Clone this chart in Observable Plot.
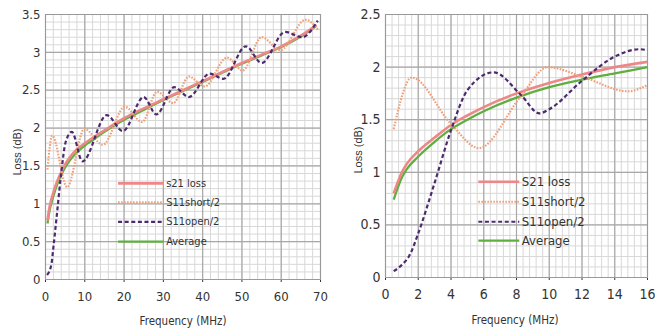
<!DOCTYPE html>
<html><head><meta charset="utf-8">
<script src="https://cdn.jsdelivr.net/npm/d3@7"></script>
<script src="https://cdn.jsdelivr.net/npm/@observablehq/plot@0.6"></script>
<style>
body{margin:0;background:#fff;}
#wrap{position:relative;width:655px;height:328px;overflow:hidden;font-family:"Liberation Sans Narrow","DejaVu Sans Condensed",sans-serif;}
.panel{position:absolute;top:0;}
.panel svg{overflow:visible;}
.ytitle{position:absolute;font-size:11px;color:#333;transform:translate(-50%,-50%) rotate(-90deg);white-space:nowrap;font-family:"Liberation Sans",sans-serif;}
.xtitle{position:absolute;font-size:11.5px;color:#333;transform:translate(-50%,-50%);white-space:nowrap;}
</style></head><body><div id="wrap"></div>
<script>
// ---------- LEFT PANEL DATA (0-70 MHz) ----------
const leftXTicks = [0, 10, 20, 30, 40, 50, 60, 70];
const leftYTicks = [0, 0.5, 1, 1.5, 2, 2.5, 3, 3.5];
const leftS21Freq = [0.5, 1, 2, 3, 4, 5, 6, 8, 10, 12, 15, 20, 25, 30, 35, 40, 45, 50, 55, 60, 65, 69];
const leftS21 =     [0.78, 0.95, 1.15, 1.3, 1.42, 1.52, 1.6, 1.72, 1.8, 1.87, 1.97, 2.13, 2.26, 2.38, 2.5, 2.62, 2.74, 2.86, 2.97, 3.08, 3.22, 3.36];
const leftAvgFreq = [0.5, 1, 2, 3, 4, 5, 6, 8, 10, 12, 15, 20, 25, 30, 35, 40, 45, 50, 55, 60, 65, 69];
const leftAvg =     [0.74, 0.9, 1.1, 1.26, 1.38, 1.48, 1.56, 1.68, 1.77, 1.84, 1.95, 2.11, 2.24, 2.37, 2.49, 2.61, 2.73, 2.85, 2.96, 3.07, 3.21, 3.35];
const leftShortFreq = [0.5, 1.7, 5.5, 9.9, 14.6, 20.2, 24.6, 28.4, 32.5, 36.5, 40.5, 46.2, 50.2, 55, 59.8, 66.2, 69.5];
const leftShort =     [1.45, 1.9, 1.22, 1.99, 1.78, 2.28, 2.08, 2.48, 2.33, 2.68, 2.55, 2.93, 2.76, 3.2, 3.03, 3.43, 3.29];
const leftOpenFreq = [0.4, 1.5, 2, 2.9, 4.1, 5.1, 6.7, 9.4, 15.6, 19.7, 25, 28.2, 32.8, 36.5, 41.8, 45.3, 51, 55, 61, 65.3, 69.3];
const leftOpen =     [0.06, 0.2, 0.42, 0.86, 1.45, 1.81, 1.95, 1.56, 2.17, 1.96, 2.41, 2.18, 2.54, 2.41, 2.72, 2.65, 3.08, 2.86, 3.27, 3.2, 3.42];
const leftLegend = ["s21 loss", "S11short/2", "S11open/2", "Average"];

// ---------- RIGHT PANEL DATA (0-16 MHz) ----------
const rightXTicks = [0, 2, 4, 6, 8, 10, 12, 14, 16];
const rightYTicks = [0, 0.5, 1, 1.5, 2, 2.5];
const rightS21Freq = [0.5, 1, 1.3, 2, 3, 4, 5, 6, 8, 10, 12, 14, 16];
const rightS21 =     [0.8, 1.0, 1.08, 1.2, 1.33, 1.45, 1.54, 1.62, 1.75, 1.85, 1.93, 2.0, 2.05];
const rightAvgFreq = [0.5, 1, 1.3, 2, 3, 4, 5, 6, 8, 10, 12, 14, 16];
const rightAvg =     [0.74, 0.95, 1.03, 1.15, 1.29, 1.41, 1.5, 1.58, 1.71, 1.81, 1.88, 1.94, 2.0];
const rightShortFreq = [0.5, 1.6, 4, 5.7, 8.3, 9.9, 12, 14.8, 16];
const rightShort =     [1.41, 1.9, 1.46, 1.23, 1.73, 2.0, 1.91, 1.77, 1.83];
const rightOpenFreq = [0.5, 1, 1.5, 2, 3, 4, 5, 6.6, 8.3, 9.4, 10, 12, 14, 15.5, 16];
const rightOpen =     [0.06, 0.12, 0.22, 0.42, 0.9, 1.4, 1.78, 1.95, 1.73, 1.56, 1.6, 1.87, 2.1, 2.17, 2.16];
const rightLegend = ["S21 loss", "S11short/2", "S11open/2", "Average"];

// ---------- STYLES ----------
const styles = [
  {stroke: "#ee8888", width: 2.6, dash: null},          // S21
  {stroke: "#f0a078", width: 2.2, dash: "1.6,1.4"},     // short
  {stroke: "#4b2b6d", width: 2.2, dash: "4,2.6"},       // open
  {stroke: "#5fae3e", width: 2.3, dash: null}           // average
];
const FONT = '"Liberation Sans Narrow","DejaVu Sans Condensed",sans-serif';

function toRows(fs, vs) { return fs.map((f, i) => ({f, v: vs[i]})); }

function makePanel(cfg) {
  const series = [
    toRows(cfg.s21f, cfg.s21),
    toRows(cfg.shf, cfg.sh),
    toRows(cfg.opf, cfg.op),
    toRows(cfg.avf, cfg.av)
  ];
  const drawOrder = [3, 0, 1, 2];
  const marks = [
    Plot.ruleX(cfg.minorX, {stroke: "#d8d8d8", strokeWidth: 1}),
    Plot.ruleY(cfg.minorY, {stroke: "#d8d8d8", strokeWidth: 1}),
    Plot.ruleX(cfg.xTicks, {stroke: "#a8a8a8", strokeWidth: 1.2}),
    Plot.ruleY(cfg.yTicks, {stroke: "#a8a8a8", strokeWidth: 1.2}),
    Plot.frame({stroke: "#999"})
  ];
  for (const i of drawOrder) {
    const s = styles[i];
    marks.push(Plot.line(series[i], {x: "f", y: "v", curve: "monotone-x", stroke: s.stroke,
      strokeWidth: s.width, strokeDasharray: s.dash || undefined, strokeLinecap: "butt"}));
  }
  cfg.legend.forEach((name, i) => {
    const s = styles[i];
    const y = cfg.legY[i];
    marks.push(Plot.ruleY([y], {x1: cfg.legX1, x2: cfg.legX2, stroke: s.stroke, strokeWidth: s.width,
      strokeDasharray: s.dash || undefined}));
    marks.push(Plot.text([name], {x: cfg.legX2, y, text: d => d, textAnchor: "start", dx: 2,
      fontSize: cfg.legFont, fill: "#333", fontFamily: FONT}));
  });
  return Plot.plot({
    width: cfg.width, height: 328,
    marginLeft: cfg.ml, marginRight: cfg.mr, marginTop: 14, marginBottom: cfg.mb,
    style: {fontFamily: FONT, fontSize: cfg.tickFont + "px", color: "#333", background: "transparent", overflow: "visible"},
    x: {domain: cfg.xDomain, ticks: cfg.xTicks, tickFormat: d => String(d), tickSize: 3, tickPadding: 9, label: null},
    y: {domain: cfg.yDomain, ticks: cfg.yTicks, tickFormat: d => String(d), tickSize: 0, tickPadding: 5, label: null},
    marks
  });
}

const wrap = document.getElementById("wrap");

const left = makePanel({
  width: 330, ml: 45, mr: 10, mb: 49, tickFont: 13, legFont: 11,
  xDomain: [0, 70], yDomain: [0, 3.5], xTicks: leftXTicks, yTicks: leftYTicks,
  minorX: d3.range(0, 70.01, 2), minorY: d3.range(0, 3.501, 0.1),
  s21f: leftS21Freq, s21: leftS21, shf: leftShortFreq, sh: leftShort,
  opf: leftOpenFreq, op: leftOpen, avf: leftAvgFreq, av: leftAvg,
  legend: leftLegend, legY: [1.27, 1.02, 0.76, 0.5], legX1: 18.6, legX2: 30.2
});
const right = makePanel({
  width: 325, ml: 55, mr: 8, mb: 51, tickFont: 14, legFont: 13,
  xDomain: [0, 16], yDomain: [0, 2.5], xTicks: rightXTicks, yTicks: rightYTicks,
  minorX: d3.range(0, 16.01, 0.4), minorY: d3.range(0, 2.501, 0.1),
  s21f: rightS21Freq, s21: rightS21, shf: rightShortFreq, sh: rightShort,
  opf: rightOpenFreq, op: rightOpen, avf: rightAvgFreq, av: rightAvg,
  legend: rightLegend, legY: [0.91, 0.72, 0.53, 0.35], legX1: 5.7, legX2: 8.2
});

const p1 = document.createElement("div"); p1.className = "panel"; p1.style.left = "0px"; p1.appendChild(left); wrap.appendChild(p1);
const p2 = document.createElement("div"); p2.className = "panel"; p2.style.left = "330px"; p2.appendChild(right); wrap.appendChild(p2);

function addTitle(cls, text, x, y) {
  const d = document.createElement("div"); d.className = cls; d.textContent = text;
  d.style.left = x + "px"; d.style.top = y + "px"; wrap.appendChild(d);
}
addTitle("ytitle", "Loss (dB)", 17, 152);
addTitle("xtitle", "Frequency (MHz)", 183, 321);
addTitle("ytitle", "Loss (dB)", 358, 150);
addTitle("xtitle", "Frequency (MHz)", 515, 320);
</script></body></html>
